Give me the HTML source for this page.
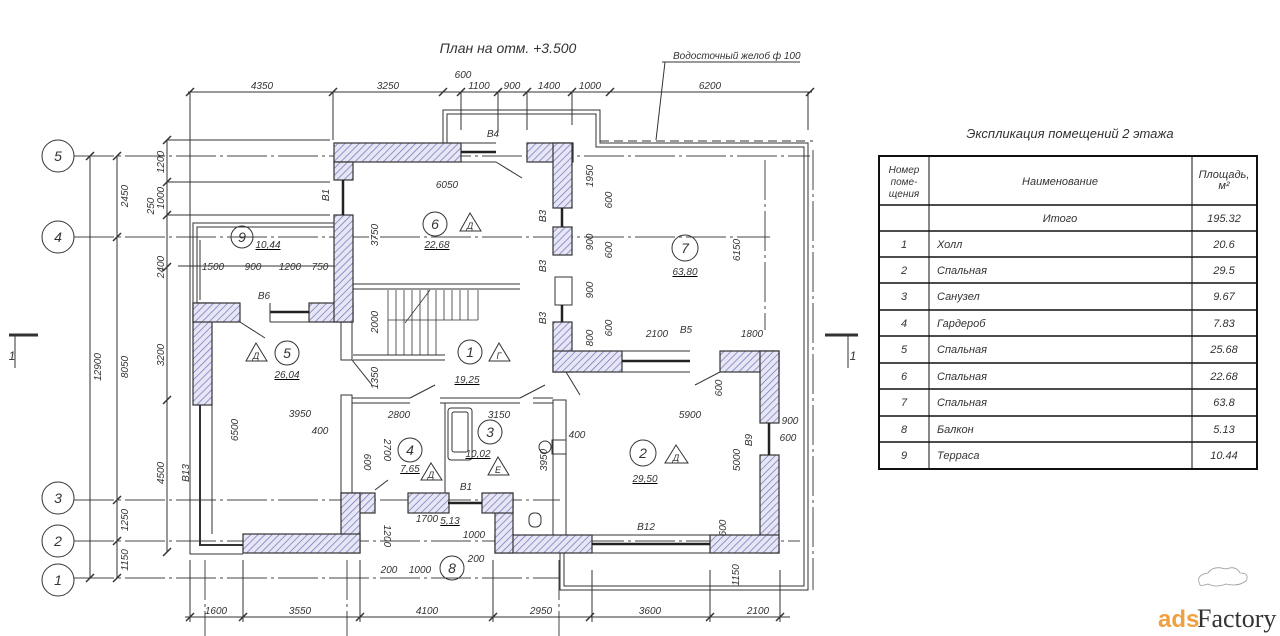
<!DOCTYPE html>
<html><head><meta charset="utf-8"><style>
html,body{margin:0;padding:0;background:#fff;width:1280px;height:636px;overflow:hidden}
svg{display:block}
text{font-family:"Liberation Sans",sans-serif;font-style:italic;fill:#333}
.d{font-size:10px}
</style></head><body>
<svg width="1280" height="636" viewBox="0 0 1280 636" xmlns="http://www.w3.org/2000/svg">
<defs>
<pattern id="h" width="5" height="5" patternUnits="userSpaceOnUse" patternTransform="rotate(45)">
<rect width="5" height="5" fill="#e6e6f4"/><line x1="0" y1="0" x2="0" y2="5" stroke="#7070bc" stroke-width="1.4"/></pattern>
</defs>
<g stroke="#333" stroke-width="1" fill="none">
<g stroke-dasharray="40,4,3,4" stroke="#444">
<line x1="74" y1="156" x2="810" y2="156"/><line x1="74" y1="237" x2="770" y2="237"/>
<line x1="74" y1="500" x2="560" y2="500"/><line x1="74" y1="541" x2="800" y2="541"/>
<line x1="74" y1="578" x2="560" y2="578"/>
<line x1="205" y1="560" x2="205" y2="636"/><line x1="347" y1="560" x2="347" y2="636"/>
<line x1="559" y1="560" x2="559" y2="636"/><line x1="765" y1="160" x2="765" y2="330"/>
<line x1="813" y1="150" x2="813" y2="590"/>
</g>
<circle cx="58" cy="156" r="16"/><circle cx="58" cy="237" r="16"/><circle cx="58" cy="498" r="16"/><circle cx="58" cy="541" r="16"/><circle cx="58" cy="580" r="16"/>
<line x1="90" y1="156" x2="90" y2="578"/><line x1="117" y1="156" x2="117" y2="578"/><line x1="167" y1="140" x2="167" y2="552"/>
<g stroke-width="1.5">
<line x1="86" y1="160" x2="94" y2="152"/><line x1="86" y1="582" x2="94" y2="574"/>
<line x1="113" y1="160" x2="121" y2="152"/><line x1="113" y1="241" x2="121" y2="233"/><line x1="113" y1="504" x2="121" y2="496"/><line x1="113" y1="545" x2="121" y2="537"/><line x1="113" y1="582" x2="121" y2="574"/>
<line x1="163" y1="144" x2="171" y2="136"/><line x1="163" y1="186" x2="171" y2="178"/><line x1="163" y1="219" x2="171" y2="211"/><line x1="163" y1="271" x2="171" y2="263"/><line x1="163" y1="404" x2="171" y2="396"/><line x1="163" y1="556" x2="171" y2="548"/>
</g>
<line x1="167" y1="140" x2="330" y2="140"/><line x1="167" y1="182" x2="330" y2="182"/><line x1="167" y1="215" x2="330" y2="215"/>
<line x1="188" y1="92" x2="812" y2="92"/>
<g stroke-width="1.5">
<line x1="186" y1="96" x2="194" y2="88"/><line x1="329" y1="96" x2="337" y2="88"/><line x1="439" y1="96" x2="447" y2="88"/><line x1="457" y1="96" x2="465" y2="88"/><line x1="494" y1="96" x2="502" y2="88"/><line x1="523" y1="96" x2="531" y2="88"/><line x1="568" y1="96" x2="576" y2="88"/><line x1="606" y1="96" x2="614" y2="88"/><line x1="806" y1="96" x2="814" y2="88"/>
</g>
<line x1="190" y1="92" x2="190" y2="300"/><line x1="333" y1="92" x2="333" y2="140"/><line x1="461" y1="92" x2="461" y2="130"/><line x1="498" y1="92" x2="498" y2="130"/><line x1="527" y1="92" x2="527" y2="130"/><line x1="572" y1="92" x2="572" y2="125"/><line x1="808" y1="92" x2="808" y2="130"/>
<line x1="185" y1="617" x2="790" y2="617"/>
<g stroke-width="1.5">
<line x1="186" y1="621" x2="194" y2="613"/><line x1="239" y1="621" x2="247" y2="613"/><line x1="356" y1="621" x2="364" y2="613"/><line x1="489" y1="621" x2="497" y2="613"/><line x1="586" y1="621" x2="594" y2="613"/><line x1="706" y1="621" x2="714" y2="613"/><line x1="776" y1="621" x2="784" y2="613"/>
</g>
<line x1="190" y1="560" x2="190" y2="622"/><line x1="243" y1="560" x2="243" y2="622"/><line x1="360" y1="560" x2="360" y2="622"/><line x1="493" y1="560" x2="493" y2="622"/><line x1="592" y1="570" x2="592" y2="622"/><line x1="710" y1="570" x2="710" y2="622"/><line x1="780" y1="570" x2="780" y2="622"/>
<polyline points="443,143 443,110 600,110 600,143 808,143 808,590 560,590 560,553"/>
<polyline points="447,143 447,114 596,114 596,147 804,147 804,586 564,586 564,553"/>
<line x1="600" y1="141" x2="813" y2="141" stroke-dasharray="9,5"/>
<polyline points="193,303 193,223 334,223"/><polyline points="197,303 197,227 334,227"/>
<line x1="200" y1="240" x2="200" y2="300"/>
<line x1="178" y1="266" x2="334" y2="266"/>
<polyline points="190,300 190,554 243,554"/><polyline points="200,405 200,545 243,545" stroke-width="2"/>
<line x1="212" y1="405" x2="212" y2="534"/>
<rect x="341" y="322" width="11" height="38"/><rect x="341" y="395" width="11" height="98"/>
<line x1="352" y1="398" x2="410" y2="398"/><line x1="352" y1="403" x2="410" y2="403"/>
<line x1="440" y1="398" x2="520" y2="398"/><line x1="440" y1="403" x2="520" y2="403"/>
<line x1="533" y1="398" x2="553" y2="398"/><line x1="533" y1="403" x2="553" y2="403"/>
<line x1="445" y1="403" x2="445" y2="493"/>
<rect x="553" y="400" width="13" height="135"/>
<line x1="353" y1="284" x2="520" y2="284"/><line x1="353" y1="289" x2="520" y2="289"/>
<line x1="353" y1="355" x2="445" y2="355"/><line x1="353" y1="360" x2="445" y2="360"/>
<g stroke-width="0.8">
<line x1="388" y1="290" x2="388" y2="355"/><line x1="396" y1="290" x2="396" y2="355"/><line x1="404" y1="290" x2="404" y2="355"/><line x1="412" y1="290" x2="412" y2="355"/><line x1="420" y1="290" x2="420" y2="355"/><line x1="428" y1="290" x2="428" y2="355"/><line x1="436" y1="290" x2="436" y2="355"/><line x1="444" y1="290" x2="444" y2="320"/><line x1="452" y1="290" x2="452" y2="320"/><line x1="460" y1="290" x2="460" y2="320"/><line x1="468" y1="290" x2="468" y2="320"/><line x1="478" y1="290" x2="478" y2="320"/>
<line x1="388" y1="320" x2="478" y2="320"/><line x1="405" y1="323" x2="430" y2="290"/>
</g>
<line x1="496" y1="162" x2="522" y2="178"/><line x1="240" y1="322" x2="265" y2="338"/><line x1="352" y1="360" x2="372" y2="385"/>
<line x1="410" y1="398" x2="435" y2="385"/><line x1="520" y1="398" x2="545" y2="385"/><line x1="566" y1="372" x2="580" y2="395"/><line x1="720" y1="372" x2="695" y2="385"/>
<line x1="388" y1="480" x2="375" y2="490"/>
<rect x="448" y="408" width="24" height="52" rx="3"/><rect x="452" y="412" width="16" height="40" rx="2"/>
<rect x="552" y="440" width="14" height="14"/><circle cx="545" cy="447" r="6"/>
<rect x="529" y="513" width="12" height="14" rx="5"/>
<rect x="555" y="277" width="17" height="28"/>
</g>
<g fill="url(#h)" stroke="#333" stroke-width="1.2">
<rect x="334" y="143" width="127" height="19"/><rect x="527" y="143" width="46" height="19"/>
<rect x="553" y="143" width="19" height="65"/><rect x="553" y="227" width="19" height="28"/><rect x="553" y="322" width="19" height="50"/>
<rect x="553" y="351" width="69" height="21"/><rect x="720" y="351" width="59" height="21"/>
<rect x="760" y="351" width="19" height="72"/><rect x="760" y="455" width="19" height="98"/>
<rect x="710" y="535" width="69" height="18"/><rect x="495" y="535" width="97" height="18"/>
<rect x="495" y="493" width="18" height="60"/><rect x="482" y="493" width="31" height="20"/>
<rect x="408" y="493" width="41" height="20"/><rect x="341" y="493" width="34" height="20"/>
<rect x="341" y="493" width="19" height="60"/><rect x="243" y="534" width="117" height="19"/>
<rect x="193" y="303" width="19" height="102"/><rect x="193" y="303" width="47" height="19"/>
<rect x="309" y="303" width="44" height="19"/><rect x="334" y="162" width="19" height="18"/><rect x="334" y="215" width="19" height="107"/>
</g>
<g stroke="#222" stroke-width="2.5">
<line x1="461" y1="152" x2="496" y2="152"/><line x1="622" y1="361" x2="690" y2="361"/><line x1="592" y1="544" x2="710" y2="544"/>
<line x1="270" y1="312" x2="309" y2="312"/><line x1="343" y1="180" x2="343" y2="215"/><line x1="769" y1="423" x2="769" y2="455"/>
<line x1="448" y1="503" x2="482" y2="503"/><line x1="562" y1="208" x2="562" y2="227"/><line x1="562" y1="305" x2="562" y2="322"/>
</g>
<g stroke="#333" fill="none"><line x1="461" y1="143" x2="496" y2="143"/><line x1="461" y1="162" x2="496" y2="162"/><line x1="622" y1="351" x2="690" y2="351"/><line x1="622" y1="372" x2="690" y2="372"/><line x1="592" y1="535" x2="710" y2="535"/><line x1="592" y1="553" x2="710" y2="553"/><line x1="270" y1="303" x2="270" y2="322"/><line x1="270" y1="322" x2="309" y2="322"/></g>
<g stroke="#333" fill="none">
<circle cx="435" cy="224" r="12"/><path d="M460,231 L470,213 L481,231 Z"/>
<circle cx="242" cy="237" r="11"/>
<circle cx="287" cy="353" r="12"/><path d="M246,361 L256,343 L267,361 Z"/>
<circle cx="470" cy="352" r="12"/><path d="M489,361 L499,343 L510,361 Z"/>
<circle cx="410" cy="450" r="12"/><path d="M421,480 L431,463 L442,480 Z"/>
<circle cx="490" cy="432" r="12"/><path d="M488,475 L498,457 L509,475 Z"/>
<circle cx="643" cy="453" r="13"/><path d="M665,463 L676,445 L688,463 Z"/>
<circle cx="685" cy="248" r="13"/>
<circle cx="452" cy="568" r="12"/>
<line x1="9" y1="335" x2="38" y2="335" stroke-width="3"/><line x1="15" y1="335" x2="15" y2="368"/>
<line x1="825" y1="335" x2="858" y2="335" stroke-width="3"/><line x1="848" y1="335" x2="848" y2="368"/>
<line x1="662" y1="62" x2="800" y2="62"/><line x1="665" y1="62" x2="656" y2="140"/>
</g>
<g font-size="14" text-anchor="middle">
<text x="58" y="161">5</text><text x="58" y="242">4</text><text x="58" y="503">3</text><text x="58" y="546">2</text><text x="58" y="585">1</text>
<text x="435" y="229">6</text><text x="242" y="242">9</text><text x="287" y="358">5</text><text x="470" y="357">1</text><text x="410" y="455">4</text><text x="490" y="437">3</text><text x="643" y="458">2</text><text x="685" y="253">7</text><text x="452" y="573">8</text>
<text x="12" y="360" font-size="12">1</text><text x="853" y="360" font-size="12">1</text>
</g>
<g font-size="9" text-anchor="middle">
<text x="470" y="229">Д</text><text x="256" y="359">Д</text><text x="499" y="359">Г</text><text x="431" y="478">Д</text><text x="498" y="473">Е</text><text x="676" y="461">Д</text>
</g>
<g class="d" text-anchor="middle" text-decoration="underline">
<text x="437" y="248">22,68</text><text x="268" y="248">10,44</text><text x="287" y="378">26,04</text><text x="467" y="383">19,25</text><text x="410" y="472">7,65</text><text x="478" y="457">10,02</text><text x="645" y="482">29,50</text><text x="685" y="275">63,80</text><text x="450" y="524">5,13</text>
</g>
<text x="508" y="53" font-size="14" text-anchor="middle">План на отм. +3.500</text>
<text x="673" y="59" font-size="10">Водосточный желоб ф 100</text>
<g class="d" text-anchor="middle">
<text x="262" y="89">4350</text><text x="388" y="89">3250</text><text x="463" y="78">600</text><text x="479" y="89">1100</text><text x="512" y="89">900</text><text x="549" y="89">1400</text><text x="590" y="89">1000</text><text x="710" y="89">6200</text>
<text x="216" y="614">1600</text><text x="300" y="614">3550</text><text x="427" y="614">4100</text><text x="541" y="614">2950</text><text x="650" y="614">3600</text><text x="758" y="614">2100</text>
<text x="447" y="188">6050</text><text x="300" y="417">3950</text><text x="399" y="418">2800</text><text x="499" y="418">3150</text><text x="690" y="418">5900</text>
<text x="213" y="270">1500</text><text x="253" y="270">900</text><text x="290" y="270">1200</text><text x="320" y="270">750</text>
<text x="657" y="337">2100</text><text x="686" y="333">B5</text><text x="752" y="337">1800</text>
<text x="427" y="522">1700</text><text x="474" y="538">1000</text><text x="389" y="573">200</text><text x="420" y="573">1000</text><text x="476" y="562">200</text>
<text x="320" y="434">400</text><text x="577" y="438">400</text><text x="790" y="424">900</text><text x="788" y="441">600</text>
<text x="493" y="137">B4</text><text x="264" y="299">B6</text><text x="466" y="490">B1</text><text x="646" y="530">B12</text>
</g>
<g class="d" text-anchor="middle">
<text transform="translate(101,367) rotate(-90)">12900</text><text transform="translate(128,367) rotate(-90)">8050</text><text transform="translate(128,196) rotate(-90)">2450</text><text transform="translate(128,520) rotate(-90)">1250</text><text transform="translate(128,560) rotate(-90)">1150</text>
<text transform="translate(164,162) rotate(-90)">1200</text><text transform="translate(164,198) rotate(-90)">1000</text><text transform="translate(154,206) rotate(-90)">250</text><text transform="translate(164,267) rotate(-90)">2400</text><text transform="translate(164,355) rotate(-90)">3200</text><text transform="translate(164,473) rotate(-90)">4500</text>
<text transform="translate(329,195) rotate(-90)">B1</text><text transform="translate(378,235) rotate(-90)">3750</text><text transform="translate(378,322) rotate(-90)">2000</text><text transform="translate(378,378) rotate(-90)">1350</text><text transform="translate(238,430) rotate(-90)">6500</text><text transform="translate(189,473) rotate(-90)">B13</text>
<text transform="translate(384,450) rotate(90)">2700</text><text transform="translate(364,462) rotate(90)">600</text><text transform="translate(384,536) rotate(90)">1200</text><text transform="translate(547,460) rotate(-90)">3950</text>
<text transform="translate(546,216) rotate(-90)">B3</text><text transform="translate(546,266) rotate(-90)">B3</text><text transform="translate(546,318) rotate(-90)">B3</text>
<text transform="translate(593,176) rotate(-90)">1950</text><text transform="translate(593,242) rotate(-90)">900</text><text transform="translate(593,290) rotate(-90)">900</text><text transform="translate(593,338) rotate(-90)">800</text>
<text transform="translate(612,200) rotate(-90)">600</text><text transform="translate(612,250) rotate(-90)">600</text><text transform="translate(612,328) rotate(-90)">600</text>
<text transform="translate(740,250) rotate(-90)">6150</text><text transform="translate(722,388) rotate(-90)">600</text><text transform="translate(740,460) rotate(-90)">5000</text><text transform="translate(752,440) rotate(-90)">B9</text><text transform="translate(726,528) rotate(-90)">600</text><text transform="translate(739,575) rotate(-90)">1150</text>
</g>
<text x="1070" y="138" font-size="13" text-anchor="middle">Экспликация помещений 2 этажа</text>
<g stroke="#111" fill="none">
<rect x="879" y="156" width="378" height="313" stroke-width="2"/>
<line x1="929" y1="156" x2="929" y2="469"/><line x1="1192" y1="156" x2="1192" y2="469"/>
<g stroke-width="1.5"><line x1="879" y1="205" x2="1257" y2="205"/><line x1="879" y1="231" x2="1257" y2="231"/><line x1="879" y1="257" x2="1257" y2="257"/><line x1="879" y1="283" x2="1257" y2="283"/><line x1="879" y1="310" x2="1257" y2="310"/><line x1="879" y1="336" x2="1257" y2="336"/><line x1="879" y1="363" x2="1257" y2="363"/><line x1="879" y1="389" x2="1257" y2="389"/><line x1="879" y1="416" x2="1257" y2="416"/><line x1="879" y1="442" x2="1257" y2="442"/></g>
</g>
<g font-size="11">
<text x="904" y="173" text-anchor="middle" font-size="10">Номер</text><text x="904" y="185" text-anchor="middle" font-size="10">поме-</text><text x="904" y="197" text-anchor="middle" font-size="10">щения</text>
<text x="1060" y="185" text-anchor="middle">Наименование</text>
<text x="1224" y="178" text-anchor="middle">Площадь,</text><text x="1224" y="189" text-anchor="middle">м²</text>
<text x="1060" y="222" text-anchor="middle">Итого</text><text x="1224" y="222" text-anchor="middle">195.32</text>
<g text-anchor="middle">
<text x="904" y="248">1</text><text x="904" y="274">2</text><text x="904" y="300">3</text><text x="904" y="327">4</text><text x="904" y="353">5</text><text x="904" y="380">6</text><text x="904" y="406">7</text><text x="904" y="433">8</text><text x="904" y="459">9</text>
<text x="1224" y="248">20.6</text><text x="1224" y="274">29.5</text><text x="1224" y="300">9.67</text><text x="1224" y="327">7.83</text><text x="1224" y="353">25.68</text><text x="1224" y="380">22.68</text><text x="1224" y="406">63.8</text><text x="1224" y="433">5.13</text><text x="1224" y="459">10.44</text>
</g>
<text x="937" y="248">Холл</text><text x="937" y="274">Спальная</text><text x="937" y="300">Санузел</text><text x="937" y="327">Гардероб</text><text x="937" y="353">Спальная</text><text x="937" y="380">Спальная</text><text x="937" y="406">Спальная</text><text x="937" y="433">Балкон</text><text x="937" y="459">Терраса</text>
</g>
<path d="M1200,585 q-5,-10 8,-12 q5,-8 18,-4 q10,-4 14,4 q10,0 6,8 q-8,6 -20,3 q-10,4 -18,0 q-6,2 -8,1 z" fill="none" stroke="#999" stroke-width="0.8"/>
<text x="1158" y="627" font-size="24" font-weight="bold" style="fill:#f0a040;font-style:normal">ads</text>
<text x="1197" y="627" font-size="26" style="fill:#333;font-style:normal;font-family:'Liberation Serif',serif">Factory</text>
</svg>
</body></html>
